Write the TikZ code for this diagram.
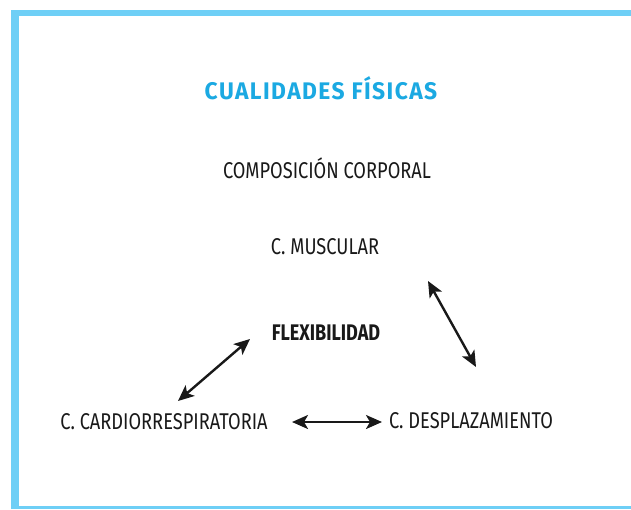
\documentclass[tikz,border=0pt]{standalone}
\usepackage{fontspec}
\setmainfont[FakeStretch=0.80]{Fira Sans}
\newfontfamily\titlefont[LetterSpace=6,FakeStretch=0.95]{Fira Sans}
\usetikzlibrary{arrows.meta}
\definecolor{frameblue}{RGB}{110,207,246}
\definecolor{titleblue}{RGB}{27,169,226}
\definecolor{txt}{RGB}{25,25,25}
\tikzset{
  lbl/.style={font=\fontsize{22.8}{26}\selectfont, text=txt, inner sep=0pt, anchor=center},
  lblb/.style={lbl, font=\fontsize{22.6}{26}\selectfont\bfseries},
  tip/.tip={Stealth[length=16pt,width=14pt,inset=4pt]},
  dbl/.style={tip-tip, line width=2.4pt, draw=txt},
}
\begin{document}
\begin{tikzpicture}[x=1pt,y=-1pt]
\useasboundingbox (0,0) rectangle (631,509);
\fill[white] (0,0) rectangle (631,509);
% frame
\fill[frameblue] (11,10) rectangle (631,16);
\fill[frameblue] (11,10) rectangle (19,509);
\fill[frameblue] (19,506) rectangle (631,508.5);
% texts
\node[lbl, font=\titlefont\fontsize{24}{27}\selectfont\bfseries, text=titleblue] (title) at (321,88) {CUALIDADES FÍSICAS};
\node[lbl] (comp) at (327,168) {COMPOSICIÓN CORPORAL};
\node[lbl] (musc) at (325,247) {C. MUSCULAR};
\node[lblb] (flex) at (326,333) {FLEXIBILIDAD};
\node[lbl] (cardio) at (164,422) {C. CARDIORRESPIRATORIA};
\node[lbl] (desp) at (471,421) {C. DESPLAZAMIENTO};
% arrow ends
\coordinate (a1) at (428,281);
\coordinate (a2) at (476,367);
\coordinate (b1) at (250,339);
\coordinate (b2) at (178,401);
\coordinate (c1) at (292,422);
\coordinate (c2) at (382,422);
\draw[dbl] (a1) -- (a2);
\draw[dbl] (b1) -- (b2);
\draw[dbl] (c1) -- (c2);
\end{tikzpicture}
\end{document}
